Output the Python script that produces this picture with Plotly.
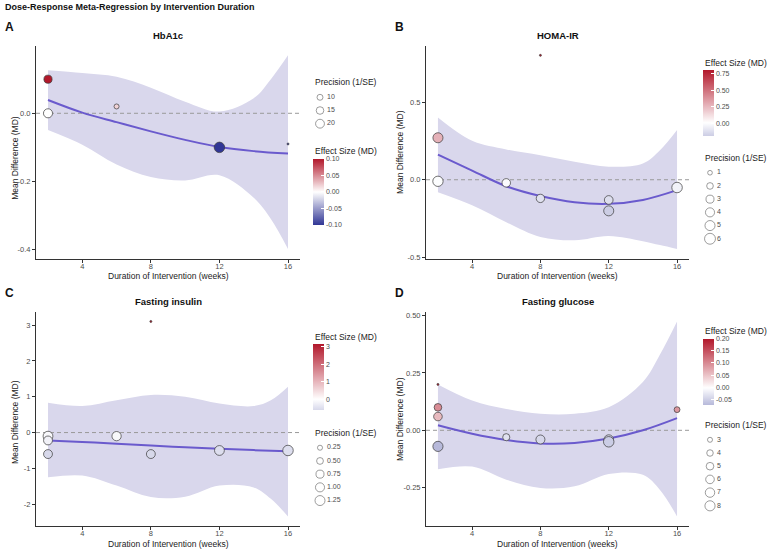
import numpy as np
import plotly.graph_objects as go

W, H = 767, 552
FONT = "Liberation Sans, Arial, Helvetica, sans-serif"

# ---------------- data ----------------
fit_weeks = [2, 4, 6, 8, 10, 12, 14, 16]
band_weeks = [2, 4, 6, 8, 10, 12, 14, 15, 16]

# A: HbA1c
a_weeks = [2, 2, 6, 12, 16]
a_md = [0.10, 0.00, 0.02, -0.10, -0.09]
a_prec = [17, 21, 8, 28, 5]
a_fit = [0.039, 0.002, -0.026, -0.053, -0.078, -0.099, -0.111, -0.118]
a_lo = [-0.049, -0.092, -0.150, -0.187, -0.197, -0.182, -0.248, -0.31, -0.398]
a_hi = [0.126, 0.118, 0.107, 0.075, 0.034, 0.005, 0.044, 0.10, 0.17]
a_prec_breaks = [10, 15, 20]
a_md_breaks = [-0.10, -0.05, 0.00, 0.05, 0.10]
a_yticks = [-0.4, -0.2, 0.0]

# B: HOMA-IR
b_weeks = [2, 2, 6, 8, 8, 12, 12, 16]
b_md = [0.27, -0.01, -0.02, -0.12, 0.80, -0.13, -0.20, -0.05]
b_prec = [5.0, 5.3, 3.4, 3.3, 0.5, 3.6, 5.0, 5.5]
b_fit = [0.162, 0.059, -0.042, -0.105, -0.145, -0.155, -0.13, -0.067]
b_lo = [-0.08, -0.164, -0.273, -0.368, -0.389, -0.361, -0.395, -0.42, -0.445]
b_hi = [0.40, 0.25, 0.195, 0.158, 0.116, 0.084, 0.105, 0.19, 0.32]
b_prec_breaks = [1, 2, 3, 4, 5, 6]
b_md_breaks = [0.00, 0.25, 0.50, 0.75]
b_yticks = [-0.5, 0.0, 0.5]

# C: Fasting insulin
c_weeks = [2, 2, 2, 6, 8, 8, 12, 16]
c_md = [-0.10, -0.22, -0.60, -0.10, -0.60, 3.10, -0.50, -0.50]
c_prec = [1.2, 0.95, 0.95, 1.05, 0.95, 0.08, 1.2, 1.4]
c_fit = [-0.22, -0.26, -0.31, -0.36, -0.41, -0.45, -0.49, -0.52]
c_lo = [-1.25, -1.2, -1.48, -1.8, -1.79, -1.48, -1.53, -1.85, -2.34]
c_hi = [0.83, 0.74, 0.90, 1.05, 1.0, 0.81, 0.74, 0.9, 1.28]
c_prec_breaks = [0.25, 0.50, 0.75, 1.00, 1.25]
c_md_breaks = [0, 1, 2, 3]
c_yticks = [-2, -1, 0, 1, 2, 3]

# D: Fasting glucose
d_weeks = [2, 2, 2, 2, 6, 8, 12, 12, 16]
d_md = [0.20, 0.10, 0.06, -0.07, -0.03, -0.04, -0.04, -0.05, 0.09]
d_prec = [2.2, 5.0, 6.0, 8.0, 4.5, 6.5, 7.0, 8.5, 3.5]
d_fit = [0.022, -0.015, -0.042, -0.057, -0.055, -0.036, 0.0, 0.053]
d_lo = [-0.17, -0.158, -0.215, -0.251, -0.244, -0.19, -0.194, -0.26, -0.375]
d_hi = [0.20, 0.13, 0.093, 0.072, 0.072, 0.10, 0.21, 0.33, 0.474]
d_prec_breaks = [3, 4, 5, 6, 7, 8]
d_md_breaks = [-0.05, 0.00, 0.05, 0.10, 0.15, 0.20]
d_yticks = [-0.25, 0.0, 0.25, 0.50]

titles = ["HbA1c", "HOMA-IR", "Fasting insulin", "Fasting glucose"]
letters = ["A", "B", "C", "D"]
x_ticks = [4, 8, 12, 16]

# ---------------- style ----------------
LOW, MID, HIGH = "#313695", "#FFFFFF", "#B2182B"
RIBBON = "#D9D7EC"
LINE = "#6A5ACD"
DMIN, DMAX = 2.0, 10.5


def hex2rgb(h):
    h = h.lstrip("#")
    return [int(h[i:i + 2], 16) for i in (0, 2, 4)]


def mix(c1, c2, t):
    a, b = hex2rgb(c1), hex2rgb(c2)
    r = [round(a[i] + (b[i] - a[i]) * t) for i in range(3)]
    return "rgb(%d,%d,%d)" % tuple(r)


def gg_col(v, m):
    p = 0.5 + v / (2 * m)
    if p < 0.5:
        return mix(LOW, MID, p / 0.5)
    return mix(MID, HIGH, (p - 0.5) / 0.5)


def make_scale(vmin, vmax):
    m = max(abs(vmin), abs(vmax))
    fr = list(np.linspace(0, 1, 25)) + [(0 - vmin) / (vmax - vmin)]
    fr = sorted(set(round(f, 6) for f in fr if 0 <= f <= 1))
    return [[f, gg_col(vmin + f * (vmax - vmin), m)] for f in fr]


def size_of(vals, vmin, vmax):
    return [DMIN + (DMAX - DMIN) * np.sqrt(max(v - vmin, 0) / (vmax - vmin)) for v in vals]


def fmt(v, dec):
    return ("%." + str(dec) + "f") % v


panels = [
    dict(w=a_weeks, md=a_md, prec=a_prec, fit=a_fit, lo=a_lo, hi=a_hi, pb=a_prec_breaks, mb=a_md_breaks,
         yt=a_yticks, ydec=1, mdec=2, pdec=0, box=(36, 300, 45, 259.5), ytx=15, yty=158,
         size_top=82, cb_top=151, lx=313),
    dict(w=b_weeks, md=b_md, prec=b_prec, fit=b_fit, lo=b_lo, hi=b_hi, pb=b_prec_breaks, mb=b_md_breaks,
         yt=b_yticks, ydec=1, mdec=2, pdec=0, box=(426, 689, 45, 259.5), ytx=400, yty=152,
         size_top=158, cb_top=62, lx=703),
    dict(w=c_weeks, md=c_md, prec=c_prec, fit=c_fit, lo=c_lo, hi=c_hi, pb=c_prec_breaks, mb=c_md_breaks,
         yt=c_yticks, ydec=0, mdec=0, pdec=2, box=(36, 300, 313, 529), ytx=15, yty=424,
         size_top=435, cb_top=338, lx=313),
    dict(w=d_weeks, md=d_md, prec=d_prec, fit=d_fit, lo=d_lo, hi=d_hi, pb=d_prec_breaks, mb=d_md_breaks,
         yt=d_yticks, ydec=2, mdec=2, pdec=0, box=(426, 689, 313, 529), ytx=400, yty=421,
         size_top=427, cb_top=332, lx=703),
]

fig = go.Figure()
annotations = []
layout = {}

ROW = 13.3

for i, p in enumerate(panels):
    k = i + 1
    sfx = "" if k == 1 else str(k)
    xa, ya = "x" + sfx, "y" + sfx
    l, r, t, b = p["box"]

    # ranges (ggplot-like 5% expansion)
    xmin, xmax = min(p["w"]), max(p["w"])
    xpad = 0.05 * (xmax - xmin)
    xr = [xmin - xpad, xmax + xpad]
    ymin = min(min(p["md"]), min(p["lo"]))
    ymax = max(max(p["md"]), max(p["hi"]))
    ypad = 0.05 * (ymax - ymin)
    yr = [ymin - ypad, ymax + ypad]

    axis_common = dict(showgrid=False, zeroline=False, showline=True, linecolor="#333333", linewidth=1,
                       ticks="outside", ticklen=3, tickcolor="#333333", tickwidth=1,
                       tickfont=dict(family=FONT, size=7.5, color="#4D4D4D"))
    layout["xaxis" + sfx] = dict(axis_common, domain=[l / W, r / W], range=xr, anchor=ya,
                                 tickvals=x_ticks, ticktext=[str(v) for v in x_ticks],
                                 ticklabelstandoff=-3)
    layout["yaxis" + sfx] = dict(axis_common, domain=[1 - b / H, 1 - t / H], range=yr, anchor=xa,
                                 tickvals=p["yt"], ticktext=[fmt(v, p["ydec"]) for v in p["yt"]])

    # ribbon
    fig.add_trace(go.Scatter(x=band_weeks, y=p["lo"], xaxis=xa, yaxis=ya, mode="lines",
                             line=dict(width=0, shape="spline", smoothing=1.0), hoverinfo="skip"))
    fig.add_trace(go.Scatter(x=band_weeks, y=p["hi"], xaxis=xa, yaxis=ya, mode="lines", fill="tonexty",
                             fillcolor=RIBBON, line=dict(width=0, shape="spline", smoothing=1.0),
                             hoverinfo="skip"))
    # zero reference
    fig.add_trace(go.Scatter(x=xr, y=[0, 0], xaxis=xa, yaxis=ya, mode="lines",
                             line=dict(color="#9A9A9A", width=1, dash="4px,3px")))
    # fit line
    fig.add_trace(go.Scatter(x=fit_weeks, y=p["fit"], xaxis=xa, yaxis=ya, mode="lines",
                             line=dict(color=LINE, width=2, shape="spline", smoothing=1.0)))
    # points
    vmin, vmax = min(p["prec"]), max(p["prec"])
    mmin, mmax = min(p["md"]), max(p["md"])
    cax = "coloraxis" + sfx
    fig.add_trace(go.Scatter(x=p["w"], y=p["md"], xaxis=xa, yaxis=ya, mode="markers",
                             marker=dict(size=size_of(p["prec"], vmin, vmax), color=p["md"], coloraxis=cax,
                                         line=dict(color="#3A3A3A", width=0.7), opacity=1)))

    # colour bar
    cb_bar_top = p["cb_top"] + 8
    layout[cax] = dict(colorscale=make_scale(mmin, mmax), cmin=mmin, cmax=mmax,
                       colorbar=dict(x=p["lx"] / W, xanchor="left", xpad=0, y=1 - cb_bar_top / H,
                                     yanchor="top", ypad=0, len=66, lenmode="pixels", thickness=11,
                                     thicknessmode="pixels", outlinewidth=0, ticks="inside", ticklen=3,
                                     tickcolor="white", tickwidth=1, tickvals=p["mb"],
                                     ticktext=[fmt(v, p["mdec"]) for v in p["mb"]],
                                     tickfont=dict(family=FONT, size=7, color="#4D4D4D")))
    annotations.append(dict(text="Effect Size (MD)", x=p["lx"] / W, y=1 - p["cb_top"] / H, xref="paper",
                            yref="paper", xanchor="left", yanchor="middle", showarrow=False,
                            font=dict(family=FONT, size=8.5, color="#222222")))

    # size legend via its own small axes
    n = len(p["pb"])
    lk = 4 + k
    first_row = p["size_top"] + 15
    y_top = first_row - ROW / 2
    y_bot = first_row + (n - 1) * ROW + ROW / 2
    layout["xaxis%d" % lk] = dict(domain=[p["lx"] / W, (p["lx"] + 60) / W], range=[0, 60], visible=False,
                                  anchor="y%d" % lk, fixedrange=True)
    layout["yaxis%d" % lk] = dict(domain=[1 - y_bot / H, 1 - y_top / H], range=[n - 0.5, -0.5],
                                  visible=False, anchor="x%d" % lk, fixedrange=True)
    idx = list(range(n))
    fig.add_trace(go.Scatter(x=[7] * n, y=idx, xaxis="x%d" % lk, yaxis="y%d" % lk, mode="markers",
                             marker=dict(size=size_of(p["pb"], vmin, vmax), color="white",
                                         line=dict(color="#3A3A3A", width=0.7)), cliponaxis=False))
    fig.add_trace(go.Scatter(x=[14] * n, y=idx, xaxis="x%d" % lk, yaxis="y%d" % lk, mode="text",
                             text=[fmt(v, p["pdec"]) for v in p["pb"]],
                             textposition="middle right", cliponaxis=False,
                             textfont=dict(family=FONT, size=7, color="#4D4D4D")))
    annotations.append(dict(text="Precision (1/SE)", x=p["lx"] / W, y=1 - p["size_top"] / H, xref="paper",
                            yref="paper", xanchor="left", yanchor="middle", showarrow=False,
                            font=dict(family=FONT, size=8.5, color="#222222")))

    # panel titles / axis titles
    annotations.append(dict(text="<b>%s</b>" % titles[i], x=(l + r) / 2 / W, y=1 - (t - 10) / H,
                            xref="paper", yref="paper", xanchor="center", yanchor="middle", showarrow=False,
                            font=dict(family=FONT, size=9.5, color="#111111")))
    annotations.append(dict(text="<b>%s</b>" % letters[i], x=(l - 33) / W, y=1 - (t - 19) / H,
                            xref="paper", yref="paper", xanchor="left", yanchor="middle", showarrow=False,
                            font=dict(family=FONT, size=12, color="#111111")))
    annotations.append(dict(text="Duration of Intervention (weeks)", x=(l + r) / 2 / W, y=1 - (b + 17.5) / H,
                            xref="paper", yref="paper", xanchor="center", yanchor="middle", showarrow=False,
                            font=dict(family=FONT, size=8.5, color="#222222")))
    annotations.append(dict(text="Mean Difference (MD)", x=p["ytx"] / W, y=1 - p["yty"] / H, textangle=-90,
                            xref="paper", yref="paper", xanchor="center", yanchor="middle", showarrow=False,
                            font=dict(family=FONT, size=8.5, color="#222222")))

annotations.append(dict(text="<b>Dose-Response Meta-Regression by Intervention Duration</b>", x=3 / W,
                        y=1 - 6 / H, xref="paper", yref="paper", xanchor="left", yanchor="middle",
                        showarrow=False, font=dict(family=FONT, size=9, color="#111111")))

fig.update_layout(width=W, height=H, margin=dict(l=0, r=0, t=0, b=0), paper_bgcolor="white",
                  plot_bgcolor="white", showlegend=False, annotations=annotations,
                  font=dict(family=FONT), **layout)

fig.write_html("out.html")
